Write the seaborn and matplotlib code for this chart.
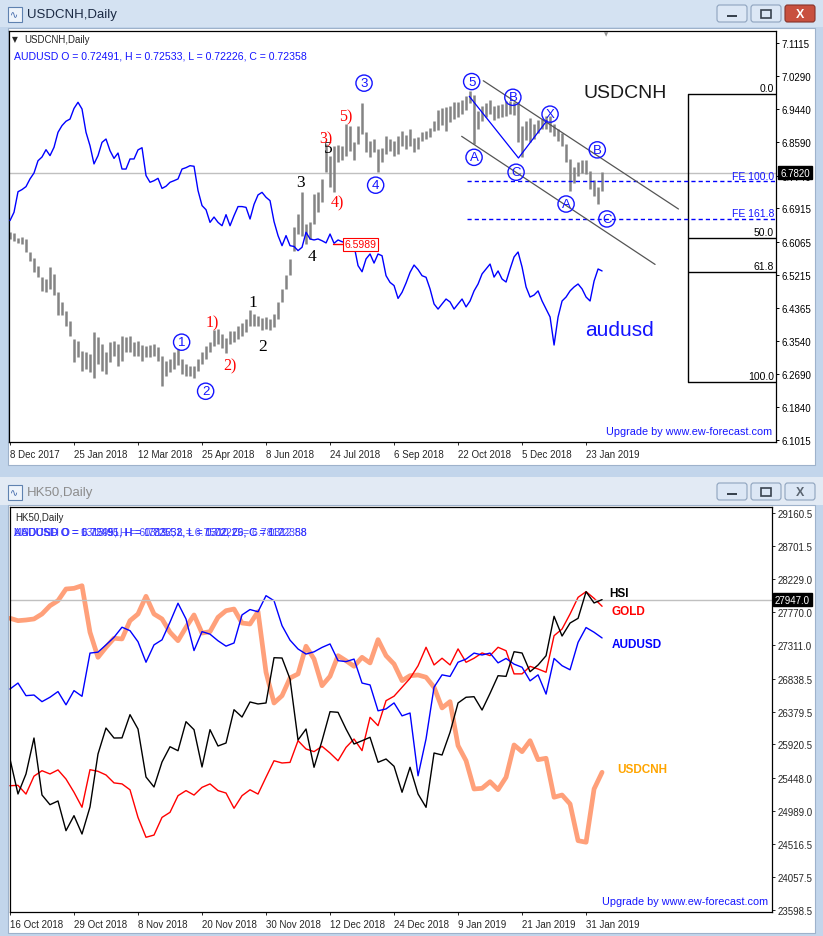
import matplotlib
matplotlib.use("Agg")
import matplotlib.pyplot as plt
import matplotlib.transforms as mtransforms
from matplotlib.patches import Rectangle, FancyBboxPatch
import numpy as np
import seaborn as sns

sns.set_style("white")
plt.rcParams["font.family"] = ["Liberation Sans", "DejaVu Sans"]

W, H = 823, 937

# ---------------- top window: USDCNH daily (one bar per two sessions) ----------------
top_tick_labels = ["8 Dec 2017", "25 Jan 2018", "12 Mar 2018", "25 Apr 2018", "8 Jun 2018",
                   "24 Jul 2018", "6 Sep 2018", "22 Oct 2018", "5 Dec 2018", "23 Jan 2019"]
cnh_price_ticks = [7.1115, 7.0290, 6.9440, 6.8590, 6.7740, 6.6915, 6.6065, 6.5215,
                   6.4365, 6.3540, 6.2690, 6.1840, 6.1015]

usdcnh_high = [
    6.632, 6.628, 6.615, 6.617, 6.613, 6.579, 6.564, 6.545, 6.515, 6.511,
    6.541, 6.524, 6.477, 6.452, 6.430, 6.405, 6.358, 6.354, 6.328, 6.324,
    6.320, 6.375, 6.362, 6.345, 6.324, 6.350, 6.354, 6.345, 6.367, 6.362,
    6.367, 6.350, 6.354, 6.343, 6.339, 6.343, 6.345, 6.337, 6.316, 6.303,
    6.307, 6.324, 6.333, 6.307, 6.294, 6.290, 6.289, 6.307, 6.324, 6.339,
    6.351, 6.382, 6.384, 6.371, 6.360, 6.379, 6.379, 6.392, 6.398, 6.409,
    6.433, 6.422, 6.416, 6.411, 6.413, 6.409, 6.422, 6.452, 6.486, 6.521,
    6.562, 6.643, 6.677, 6.732, 6.651, 6.655, 6.728, 6.732, 6.766, 6.855,
    6.825, 6.849, 6.852, 6.851, 6.906, 6.902, 6.861, 6.902, 6.959, 6.885,
    6.863, 6.868, 6.842, 6.846, 6.875, 6.868, 6.863, 6.875, 6.889, 6.878,
    6.893, 6.869, 6.872, 6.886, 6.889, 6.895, 6.914, 6.942, 6.946, 6.948,
    6.953, 6.961, 6.963, 6.968, 6.976, 6.991, 6.980, 6.940, 6.953, 6.959,
    6.968, 6.951, 6.954, 6.957, 6.965, 6.965, 6.963, 6.961, 6.902, 6.914,
    6.920, 6.906, 6.917, 6.919, 6.927, 6.927, 6.906, 6.893, 6.883, 6.855,
    6.817, 6.796, 6.808, 6.815, 6.815, 6.787, 6.762, 6.745, 6.783]
usdcnh_low = [
    6.613, 6.609, 6.603, 6.601, 6.579, 6.558, 6.528, 6.515, 6.481, 6.477,
    6.486, 6.469, 6.418, 6.418, 6.392, 6.367, 6.299, 6.311, 6.277, 6.282,
    6.273, 6.260, 6.294, 6.277, 6.269, 6.299, 6.316, 6.290, 6.303, 6.324,
    6.324, 6.316, 6.316, 6.303, 6.311, 6.311, 6.316, 6.303, 6.239, 6.265,
    6.273, 6.282, 6.292, 6.269, 6.265, 6.265, 6.258, 6.277, 6.294, 6.307,
    6.324, 6.339, 6.345, 6.334, 6.322, 6.345, 6.351, 6.358, 6.365, 6.377,
    6.392, 6.392, 6.390, 6.382, 6.384, 6.382, 6.388, 6.409, 6.452, 6.486,
    6.520, 6.583, 6.626, 6.621, 6.600, 6.613, 6.651, 6.681, 6.706, 6.783,
    6.745, 6.732, 6.808, 6.813, 6.825, 6.838, 6.813, 6.855, 6.880, 6.834,
    6.821, 6.834, 6.783, 6.808, 6.829, 6.838, 6.825, 6.829, 6.849, 6.841,
    6.849, 6.834, 6.842, 6.863, 6.868, 6.872, 6.889, 6.891, 6.903, 6.889,
    6.910, 6.919, 6.925, 6.931, 6.942, 6.959, 6.855, 6.893, 6.914, 6.923,
    6.931, 6.917, 6.920, 6.925, 6.927, 6.931, 6.929, 6.859, 6.821, 6.866,
    6.859, 6.868, 6.883, 6.892, 6.893, 6.885, 6.875, 6.863, 6.849, 6.808,
    6.736, 6.756, 6.773, 6.781, 6.779, 6.740, 6.723, 6.702, 6.736]
audusd_overlay = [
    0.7491, 0.7533, 0.7637, 0.7648, 0.7663, 0.7702, 0.7732, 0.7794, 0.7813, 0.7850,
    0.7820, 0.7862, 0.7938, 0.7972, 0.7994, 0.8005, 0.8059, 0.8090, 0.8056, 0.7938,
    0.7870, 0.7778, 0.7820, 0.7887, 0.7904, 0.7845, 0.7806, 0.7833, 0.7752, 0.7752,
    0.7803, 0.7803, 0.7849, 0.7860, 0.7719, 0.7685, 0.7693, 0.7705, 0.7654, 0.7665,
    0.7685, 0.7693, 0.7702, 0.7752, 0.7759, 0.7769, 0.7766, 0.7643, 0.7567, 0.7546,
    0.7482, 0.7509, 0.7482, 0.7465, 0.7521, 0.7465, 0.7516, 0.7562, 0.7562, 0.7558,
    0.7499, 0.7573, 0.7621, 0.7634, 0.7609, 0.7592, 0.7486, 0.7415, 0.7364, 0.7415,
    0.7364, 0.7360, 0.7339, 0.7356, 0.7432, 0.7398, 0.7393, 0.7398, 0.7389, 0.7378,
    0.7423, 0.7376, 0.7393, 0.7384, 0.7378, 0.7373, 0.7364, 0.7263, 0.7232, 0.7297,
    0.7322, 0.7276, 0.7322, 0.7313, 0.7212, 0.7178, 0.7162, 0.7097, 0.7128, 0.7175,
    0.7229, 0.7266, 0.7243, 0.7212, 0.7204, 0.7145, 0.7069, 0.7043, 0.7069, 0.7094,
    0.7079, 0.7043, 0.7069, 0.7094, 0.7054, 0.7084, 0.7135, 0.7170, 0.7221, 0.7246,
    0.7271, 0.7205, 0.7236, 0.7195, 0.7180, 0.7246, 0.7307, 0.7332, 0.7256, 0.7155,
    0.7104, 0.7114, 0.7135, 0.7084, 0.7043, 0.7003, 0.6861, 0.7003, 0.7084, 0.7104,
    0.7135, 0.7155, 0.7170, 0.7145, 0.7104, 0.7084, 0.7185, 0.7246, 0.7236]

fib_levels = {"0.0": 6.9816, "50.0": 6.6147, "61.8": 6.5281, "100.0": 6.2477}
fe_levels = {"FE 100.0": 6.7599, "FE 161.8": 6.6638}
cnh_last = 6.7820
cnh_marker = 6.5989

# wave labels (bar index, price)
circled = [("1", 42.9, 6.350), ("2", 48.9, 6.225), ("3", 88.5, 7.010), ("4", 91.4, 6.750),
           ("5", 115.4, 7.014), ("A", 116.0, 6.821), ("B", 125.7, 6.974), ("C", 126.5, 6.783),
           ("X", 135.0, 6.931), ("B", 146.8, 6.840), ("A", 139.0, 6.702), ("C", 149.2, 6.664)]
black_waves = [("1", 60.6, 6.452), ("2", 63.1, 6.340), ("3", 72.5, 6.759), ("4", 75.6, 6.569),
               ("5", 79.6, 6.844)]
red_waves = [("1)", 50.6, 6.401), ("2)", 55.0, 6.290), ("3)", 79.0, 6.868), ("4)", 81.9, 6.706),
             ("5)", 84.0, 6.926)]
upper_channel = ([118.3, 167.1], [7.0162, 6.6893])
lower_channel = ([112.9, 161.25], [6.8745, 6.5481])
abc_path = ([114.8, 127.1, 134.2], [6.9765, 6.8193, 6.9143])

# ---------------- bottom window: HK50 daily with overlays ----------------
hk_tick_labels = ["16 Oct 2018", "29 Oct 2018", "8 Nov 2018", "20 Nov 2018", "30 Nov 2018",
                  "12 Dec 2018", "24 Dec 2018", "9 Jan 2019", "21 Jan 2019", "31 Jan 2019"]
hk_price_ticks = [29160.5, 28701.5, 28229.0, 27770.0, 27311.0, 26838.5, 26379.5,
                  25920.5, 25448.0, 24989.0, 24516.5, 24057.5, 23598.5]
hsi = [
    25714, 25224, 25504, 26008, 25210, 25074, 25126, 24710, 24920, 24663,
    25042, 25784, 26148, 26008, 26010, 26335, 26134, 25462, 25322, 25672,
    25886, 25830, 26237, 26125, 25602, 26125, 25896, 25938, 26405, 26302,
    26513, 26485, 26499, 27133, 27129, 26835, 25980, 26134, 25598, 25970,
    26377, 26368, 26134, 25924, 25970, 26018, 25668, 25714, 25612, 25248,
    25598, 25224, 25037, 25798, 25770, 26088, 26499, 26579, 26587, 26400,
    26634, 26881, 26872, 27217, 27199, 26937, 27031, 27161, 27713, 27437,
    27619, 27685, 28058, 27900, 27947]
gold = [
    1225.4, 1225.6, 1221.3, 1230.1, 1232.8, 1231.2, 1233.2, 1228.7, 1222.2, 1214.8,
    1233.3, 1232.5, 1230.7, 1226.8, 1226.3, 1223.4, 1209.8, 1200.0, 1201.1, 1209.8,
    1212.3, 1220.5, 1223.0, 1220.8, 1224.6, 1226.3, 1223.0, 1221.8, 1214.3, 1220.5,
    1223.4, 1221.3, 1229.6, 1237.7, 1236.6, 1236.9, 1247.6, 1243.5, 1242.2, 1244.8,
    1241.5, 1237.7, 1244.3, 1248.4, 1242.7, 1259.1, 1255.0, 1267.3, 1269.5, 1273.9,
    1278.3, 1284.5, 1293.6, 1284.9, 1288.2, 1284.9, 1292.8, 1286.2, 1288.2, 1290.8,
    1289.5, 1293.6, 1291.9, 1280.5, 1280.5, 1284.2, 1282.9, 1281.3, 1299.3, 1302.6,
    1310.0, 1318.2, 1321.0, 1317.7, 1313.8]
audusd = [
    0.7074, 0.7093, 0.7053, 0.7055, 0.7034, 0.7048, 0.7066, 0.7024, 0.7069, 0.7051,
    0.7188, 0.7191, 0.7214, 0.7238, 0.7270, 0.7259, 0.7224, 0.7159, 0.7214, 0.7230,
    0.7286, 0.7346, 0.7296, 0.7196, 0.7256, 0.7248, 0.7227, 0.7210, 0.7220, 0.7309,
    0.7326, 0.7319, 0.7370, 0.7354, 0.7275, 0.7229, 0.7201, 0.7185, 0.7192, 0.7206,
    0.7217, 0.7164, 0.7161, 0.7169, 0.7093, 0.7087, 0.7005, 0.7011, 0.7030, 0.6989,
    0.6998, 0.6799, 0.6916, 0.7080, 0.7119, 0.7114, 0.7159, 0.7169, 0.7188, 0.7182,
    0.7188, 0.7157, 0.7171, 0.7153, 0.7143, 0.7100, 0.7119, 0.7058, 0.7171, 0.7148,
    0.7135, 0.7222, 0.7269, 0.7254, 0.7236]
usdcnh = [
    6.9405, 6.9380, 6.9387, 6.9398, 6.9449, 6.9534, 6.9586, 6.9706, 6.9713, 6.9740,
    6.9261, 6.9003, 6.9106, 6.9199, 6.9192, 6.9380, 6.9449, 6.9631, 6.9449, 6.9398,
    6.9261, 6.9174, 6.9312, 6.9439, 6.9253, 6.9267, 6.9415, 6.9483, 6.9500, 6.9356,
    6.9346, 6.9473, 6.8849, 6.8533, 6.8608, 6.8790, 6.8832, 6.9117, 6.8986, 6.8711,
    6.8808, 6.9020, 6.8968, 6.8911, 6.9003, 6.8945, 6.9185, 6.9020, 6.8934, 6.8763,
    6.8814, 6.8821, 6.8798, 6.8695, 6.8482, 6.8547, 6.8094, 6.7939, 6.7648, 6.7655,
    6.7723, 6.7641, 6.7769, 6.8101, 6.8032, 6.8145, 6.7950, 6.7964, 6.7563, 6.7586,
    6.7494, 6.7116, 6.7100, 6.7648, 6.7820]
hsi_last = 27947.0

fig = plt.figure(figsize=(W / 100, H / 100), dpi=100)
fig.patch.set_facecolor("#C2D5EB")


def box(x0, y0, x1, y1, z=-10, **kw):
    fig.add_artist(Rectangle((x0 / W, 1 - y1 / H), (x1 - x0) / W, (y1 - y0) / H,
                             transform=fig.transFigure, zorder=z, **kw))


def ptext(x, y, s, **kw):
    return fig.text(x / W, 1 - y / H, s, **kw)


def window_bar(y0, y1, title, active):
    box(0, y0, W, y1, facecolor="#D4E2F2" if active else "#E2EAF4", lw=0)
    box(8, y0 + 8, 22, y1 - 5, z=-5, facecolor="#EEF4FB", edgecolor="#5F82B0", lw=0.8)
    ptext(10, (y0 + y1) / 2 + 1, "\u223f", fontsize=7, color="#3A63A8", va="center")
    ptext(27, (y0 + y1) / 2 + 1, title, fontsize=9.5, va="center",
          color="#1B2A44" if active else "#8C8C8C")
    by0, by1 = y0 + 6, y0 + 23
    for x0, x1, kind in [(717, 747, "min"), (751, 781, "max"), (785, 815, "close")]:
        if kind == "close" and active:
            fc, ec = "#C8503F", "#86332A"
        else:
            fc, ec = "#DCE7F5", "#8EA3BE"
        fig.add_artist(FancyBboxPatch((x0 / W, 1 - by1 / H), (x1 - x0) / W, (by1 - by0) / H,
                                      boxstyle="round,pad=0,rounding_size=0.003",
                                      transform=fig.transFigure, fc=fc, ec=ec, lw=0.8, zorder=-5))
        cx, cy = (x0 + x1) / 2, (by0 + by1) / 2
        if kind == "min":
            box(cx - 5, cy + 1, cx + 5, cy + 3.5, z=-4, facecolor="#39434F", lw=0)
        elif kind == "max":
            box(cx - 5, cy - 4, cx + 5, cy + 4, z=-4, facecolor="none", edgecolor="#39434F", lw=1.2)
        else:
            ptext(cx, cy + 0.5, "X", fontsize=9, fontweight="bold", ha="center", va="center",
                  color="white" if active else "#5A6470")


# window frames
window_bar(0, 28, "USDCNH,Daily", True)
box(8, 29, 815, 466, facecolor="white", edgecolor="#9EB2CB", lw=0.8)
window_bar(478, 506, "HK50,Daily", False)
box(8, 506, 815, 934, facecolor="white", edgecolor="#9EB2CB", lw=0.8)

blue = "#1414FF"

# ================= top chart =================
ax1 = fig.add_axes([9 / W, 1 - 443.3 / H, (775.7 - 9) / W, (443.3 - 32.3) / H])
ax1.patch.set_visible(False)
bar_idx = np.arange(len(usdcnh_high))
ax1.axhline(cnh_last, color="#C0C0C0", lw=1, zorder=0.5)
ax1.vlines(bar_idx, usdcnh_low, usdcnh_high, color="#848484", lw=1.8, zorder=1)

ax1a = ax1.twinx()
sns.lineplot(x=bar_idx, y=audusd_overlay, ax=ax1a, color="#0000FF", lw=1.0,
             estimator=None, sort=False)
ax1a.set_ylim(0.63685, 0.84494)
ax1a.set_yticks([])
ax1a.set_ylabel("")
for sp in ax1a.spines.values():
    sp.set_visible(False)

ax1.set_xlim(-0.25, 191.4)
ax1.set_ylim(6.0949, 7.1421)
ax1.yaxis.tick_right()
ax1.set_yticks(cnh_price_ticks, [f"{v:.4f}" for v in cnh_price_ticks])
ax1.set_xticks(np.arange(len(top_tick_labels)) * 16, top_tick_labels, ha="left")
ax1.tick_params(axis="y", direction="out", length=2.5, width=0.7, labelsize=7, pad=1.5,
                right=True, left=False, colors="black")
ax1.tick_params(axis="x", direction="out", length=2.5, width=0.7, labelsize=7, pad=2.5,
                bottom=True)
for sp in ax1.spines.values():
    sp.set_color("black")
    sp.set_linewidth(0.9)

# fibonacci box
ax1.plot([169.5, 169.5], [fib_levels["0.0"], fib_levels["100.0"]], color="black", lw=1)
for name, lvl in fib_levels.items():
    ax1.hlines(lvl, 169.5, 191.4, color="black", lw=1)
    ax1.text(191.0, lvl + 0.003, name, ha="right", va="bottom", fontsize=7.5, color="black")
for name, lvl in fe_levels.items():
    ax1.hlines(lvl, 114.25, 191.4, colors="#0000FF", linestyles=(0, (3, 2.2)), lw=1)
    ax1.text(191.0, lvl + 0.002, name, ha="right", va="bottom", fontsize=7.5, color=blue)

ax1.plot(*upper_channel, color="#555555", lw=0.9)
ax1.plot(*lower_channel, color="#555555", lw=0.9)
ax1.plot(*abc_path, color="#0000FF", lw=0.9)

for s, k, p in circled:
    ax1.text(k, p, s, color=blue, fontsize=9.5, ha="center", va="center",
             bbox=dict(boxstyle="circle,pad=0.16", fc="none", ec=blue, lw=1.0))
for s, k, p in black_waves:
    ax1.text(k, p, s, color="black", fontsize=12.5, ha="center", va="center",
             family="Liberation Serif")
for s, k, p in red_waves:
    ax1.text(k, p, s, color="red", fontsize=11.5, ha="center", va="center",
             family="Liberation Serif")

# last price marker and red price label
blend1 = mtransforms.blended_transform_factory(ax1.transAxes, ax1.transData)
ax1.text(1.006, cnh_last, "6.7820", transform=blend1, color="white", fontsize=7,
         ha="left", va="center", bbox=dict(fc="black", ec="black", pad=1.3), zorder=5)
ax1a.plot([80.8, 83.3], [cnh_marker, cnh_marker], color="red", lw=1, transform=ax1.transData)
ax1a.text(83.6, cnh_marker, "6.5989", transform=ax1.transData, color="red", fontsize=7.5,
          ha="left", va="center", bbox=dict(fc="white", ec="red", pad=1.0, lw=0.8), zorder=6)

ptext(12, 40, "\u25bc", fontsize=5.5, va="center", family="DejaVu Sans")
ptext(24, 40, "USDCNH,Daily", fontsize=7, va="center")
ptext(14, 56.5, "AUDUSD O = 0.72491, H = 0.72533, L = 0.72226, C = 0.72358",
      fontsize=7.6, va="center", color=blue)
ptext(625, 93, "USDCNH", fontsize=14, ha="center", va="center", color="#1A1A1A")
ptext(620, 331, "audusd", fontsize=15, ha="center", va="center", color=blue)
ptext(772, 432, "Upgrade by www.ew-forecast.com", fontsize=7.8, ha="right", va="center",
      color=blue)
ptext(606, 35, "\u25bc", fontsize=4, ha="center", va="center", color="#909090",
      family="DejaVu Sans")

# ================= bottom chart =================
ax2 = fig.add_axes([9.5 / W, 1 - 913 / H, (771.7 - 9.5) / W, (913 - 508) / H])
ax2_cnh = ax2.twinx()
ax2_gold = ax2.twinx()
ax2_aud = ax2.twinx()
ax2_cnh.set_zorder(1)
ax2_gold.set_zorder(2)
ax2_aud.set_zorder(3)
ax2.set_zorder(4)
ax2.patch.set_visible(False)

day_idx = np.arange(len(hsi))
sns.lineplot(x=day_idx, y=usdcnh, ax=ax2_cnh, color="#FFA07A", lw=3.4,
             estimator=None, sort=False)
sns.lineplot(x=day_idx, y=gold, ax=ax2_gold, color="#FF0000", lw=1.0,
             estimator=None, sort=False)
sns.lineplot(x=day_idx, y=audusd, ax=ax2_aud, color="#0000FF", lw=1.0,
             estimator=None, sort=False)
ax2.axhline(hsi_last, color="#C0C0C0", lw=1, zorder=0.5)
sns.lineplot(x=day_idx, y=hsi, ax=ax2, color="black", lw=1.0, estimator=None, sort=False)

for tw, lim in [(ax2_cnh, (6.6382, 7.0550)), (ax2_gold, (1163.2, 1362.7)),
                (ax2_aud, (0.63672, 0.76511))]:
    tw.set_ylim(*lim)
    tw.set_yticks([])
    tw.set_ylabel("")
    for sp in tw.spines.values():
        sp.set_visible(False)

ax2.set_xlim(-0.06, 95.2)
ax2.set_ylim(23570.5, 29244.6)
ax2.set_xlabel("")
ax2.set_ylabel("")
ax2.yaxis.tick_right()
ax2.set_yticks(hk_price_ticks, [f"{v:.1f}" for v in hk_price_ticks])
ax2.set_xticks(np.arange(len(hk_tick_labels)) * 8, hk_tick_labels, ha="left")
ax2.tick_params(axis="y", direction="out", length=2.5, width=0.7, labelsize=7, pad=1.5,
                right=True, left=False)
ax2.tick_params(axis="x", direction="out", length=2.5, width=0.7, labelsize=7, pad=2.5,
                bottom=True)
for sp in ax2.spines.values():
    sp.set_color("black")
    sp.set_linewidth(0.9)

blend2 = mtransforms.blended_transform_factory(ax2.transAxes, ax2.transData)
ax2.text(1.004, hsi_last, "27947.0", transform=blend2, color="white", fontsize=7,
         ha="left", va="center", bbox=dict(fc="black", ec="black", pad=1.3), zorder=5)

ptext(15, 518, "HK50,Daily", fontsize=7, va="center")
for s in ["AUDUSD O = 0.72491, H = 0.72533, L = 0.72226, C = 0.72358",
          "USDCNH O = 6.7595, H = 6.7832, L = 6.7502, C = 6.7812",
          "XAUUSD O = 1313.95, H = 1319.52, L = 1310.29, C = 1312.88"]:
    ptext(14, 533, s, fontsize=7.6, va="center", color="#2A2AFF", alpha=0.85)

ptext(619, 594, "HSI", fontsize=8.5, fontweight="bold", ha="center", va="center", color="black")
ptext(628, 612, "GOLD", fontsize=8.5, fontweight="bold", ha="center", va="center", color="#FF0000")
ptext(637, 645, "AUDUSD", fontsize=8.5, fontweight="bold", ha="center", va="center", color="#0000FF")
ptext(642, 770, "USDCNH", fontsize=8.5, fontweight="bold", ha="center", va="center", color="#FFA500")
ptext(768, 902, "Upgrade by www.ew-forecast.com", fontsize=7.8, ha="right", va="center",
      color=blue)

fig.savefig("out.png", dpi=100)
